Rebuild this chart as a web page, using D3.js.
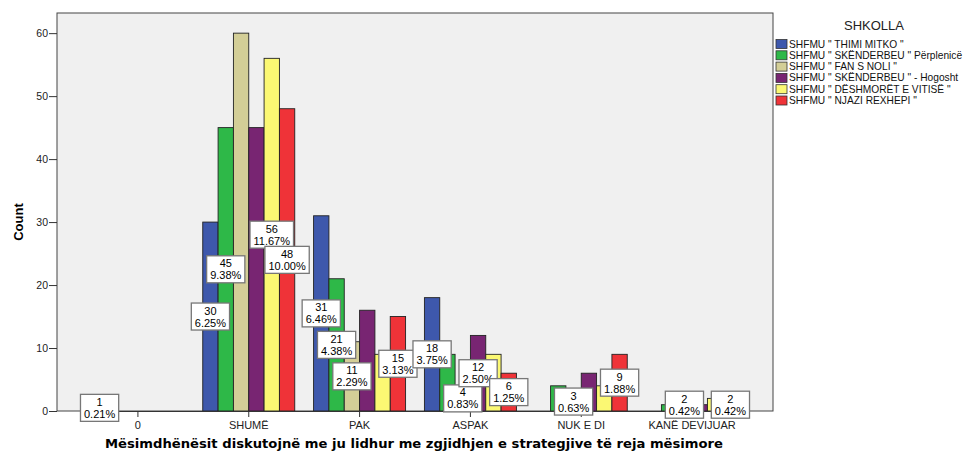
<!DOCTYPE html>
<html><head><meta charset="utf-8">
<script src="https://cdn.jsdelivr.net/npm/d3@7"></script>
<style>
body{margin:0;background:#fff;}
svg{display:block;font-family:"Liberation Sans",Arial,sans-serif;}
</style></head>
<body><svg id="c" width="977" height="454"></svg>
<script>
const categories = ["0","SHUMË","PAK","ASPAK","NUK E DI","KANË DEVIJUAR"];
const schools = ['SHFMU " THIMI MITKO "','SHFMU " SKËNDERBEU " Përplenicë','SHFMU " FAN S NOLI "','SHFMU " SKËNDERBEU " -  Hogosht','SHFMU " DËSHMORËT E VITISË "','SHFMU " NJAZI REXHEPI "'];
const colors = ["#3E58AC","#2EB848","#D3CE97","#782572","#FBF873","#EF3338"];
// counts per school, in category order
const thimiMitko      = [1,30,31,18,0,0];
const skenderbeuPerpl = [0,45,21,9,4,1];
const fanSNoli        = [0,60,11,4,3,2];
const skenderbeuHog   = [0,45,16,12,6,1];
const deshmoret       = [0,56,9,9,4,2];
const njaziRexhepi    = [0,48,15,6,9,2];
const seriesValues = [thimiMitko,skenderbeuPerpl,fanSNoli,skenderbeuHog,deshmoret,njaziRexhepi];
const total = 480;
// labels visible in the picture: [category index, school index]
const shownLabels = [[0,0],[1,0],[1,1],[1,4],[1,5],[2,0],[2,1],[2,2],[2,5],[3,0],[3,2],[3,3],[3,5],[4,2],[4,5],[5,2],[5,5]];
const yTicks = [0,10,20,30,40,50,60];
const yTitle = "Count";
const xTitle = "Mësimdhënësit diskutojnë me ju lidhur me zgjidhjen e strategjive të reja mësimore";
const legendTitle = "SHKOLLA";

const svg = d3.select("#c");
const L=57, R=773, T=13, B=411;
svg.append("rect").attr("x",L).attr("y",T).attr("width",R-L).attr("height",B-T)
  .attr("fill","#F0F0F0").attr("stroke","#444").attr("stroke-width",1);

const x = d3.scaleBand().domain(categories).range([L+25.5,R-25.5]);
const groupW = 92;
const xs = d3.scaleBand().domain(d3.range(schools.length)).range([-groupW/2,groupW/2]);
const y = d3.scaleLinear().domain([0,63.2]).range([B,T]);

const bars=[];
seriesValues.forEach((arr,si)=>arr.forEach((v,ci)=>{ if(v>0) bars.push({ci,si,v}); }));
svg.append("g").selectAll("rect").data(bars).join("rect")
  .attr("x",d=>x(categories[d.ci])+x.bandwidth()/2+xs(d.si))
  .attr("y",d=>y(d.v)).attr("width",xs.bandwidth()).attr("height",d=>B-y(d.v))
  .attr("fill",d=>colors[d.si]).attr("stroke","#222").attr("stroke-width",0.9);

// axes
const ya = svg.append("g").attr("transform",`translate(${L},0)`)
  .call(d3.axisLeft(y).tickValues(yTicks).tickSize(8).tickPadding(1).tickFormat(d3.format("d")));
ya.select(".domain").remove();
ya.selectAll("line").attr("stroke","#333");
ya.selectAll("text").attr("font-size",10.5).attr("fill","#222").attr("font-family","Liberation Sans, Arial");

const xa = svg.append("g").attr("transform",`translate(0,${B})`)
  .call(d3.axisBottom(x).tickSize(6).tickPadding(4));
xa.select(".domain").attr("stroke","#333");
xa.selectAll("line").attr("stroke","#333");
xa.selectAll("text").attr("font-size",11).attr("fill","#222").attr("font-family","Liberation Sans, Arial");

// labels
const lg = svg.append("g");
shownLabels.forEach(([ci,si])=>{
  const v = seriesValues[si][ci];
  const cx = x(categories[ci])+x.bandwidth()/2+xs(si)+xs.bandwidth()/2;
  const cy = y(v/2);
  const pct = (v/total*100).toFixed(2)+"%";
  const g = lg.append("g");
  const t1 = g.append("text").attr("x",cx).attr("y",cy-2).attr("text-anchor","middle").attr("font-size",11).text(v);
  const t2 = g.append("text").attr("x",cx).attr("y",cy+10).attr("text-anchor","middle").attr("font-size",11).text(pct);
  const w = Math.max(t1.node().getComputedTextLength(),t2.node().getComputedTextLength())+7;
  g.insert("rect","text").attr("x",cx-w/2).attr("y",cy-13.5).attr("width",w).attr("height",27)
    .attr("fill","#fff").attr("stroke","#777").attr("stroke-width",1.3);
});

// titles
svg.append("text").attr("transform",`translate(23,${(T+B)/2+10}) rotate(-90)`).attr("text-anchor","middle")
  .attr("font-size",13).attr("font-weight","bold").text(yTitle);
svg.append("text").attr("x",414).attr("y",448).attr("text-anchor","middle")
  .attr("font-family","DejaVu Sans").attr("font-size",13).attr("font-weight","bold")
  .attr("textLength",618).attr("lengthAdjust","spacingAndGlyphs").text(xTitle);

// legend
svg.append("text").attr("x",874).attr("y",30).attr("text-anchor","middle").attr("font-size",13).attr("fill","#222").text(legendTitle);
const lgd = svg.append("g");
schools.forEach((s,i)=>{
  const yy = 39.5 + i*11.3;
  lgd.append("rect").attr("x",776).attr("y",yy).attr("width",11).attr("height",9)
    .attr("fill",colors[i]).attr("stroke","#333").attr("stroke-width",0.8);
  lgd.append("text").attr("x",789).attr("y",yy+8).attr("font-size",10.2).attr("fill","#111").text(s);
});
</script></body></html>
